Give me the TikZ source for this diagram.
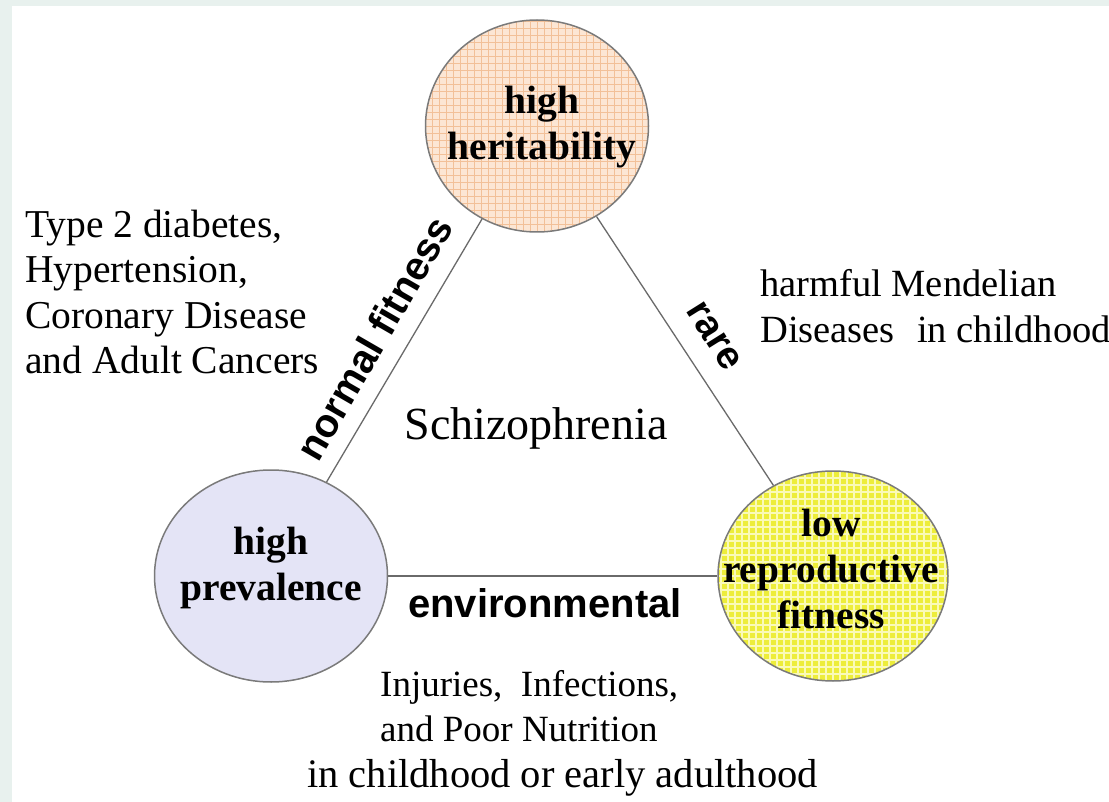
\documentclass[tikz,border=0pt]{standalone}
\usepackage{fontspec}
\setmainfont{Liberation Serif}
\setsansfont{Liberation Sans}
\usetikzlibrary{shapes.geometric}

\definecolor{framebg}{HTML}{E8F1EE}
\definecolor{rimgray}{HTML}{7A7A7A}
\definecolor{linkgray}{HTML}{6A6A6A}
\definecolor{peachbase}{HTML}{FCE6D4}
\definecolor{peachline}{HTML}{F2C098}
\definecolor{lavender}{HTML}{E4E4F6}
\definecolor{lemonbase}{HTML}{EDED3A}
\definecolor{lemonline}{HTML}{FAFAB8}

% square cell pattern clipped to the shape it decorates
\newcommand{\cellpattern}[2]{%
  \begin{scope}[shift={(path picture bounding box.center)}]
    \foreach \k in {-126,-119,...,126}{
      \draw[#1, line width=#2] (\k,-130) -- (\k,130);
      \draw[#1, line width=#2] (-130,\k) -- (130,\k);
    }
  \end{scope}}

\tikzset{
  hub/.style={ellipse, draw=rimgray, line width=1.5pt, inner sep=0pt},
  peachgrid/.style={fill=peachbase, path picture={\cellpattern{peachline}{0.9pt}}},
  lemongrid/.style={fill=lemonbase, path picture={\cellpattern{lemonline}{1.6pt}}},
  link/.style={draw=linkgray, line width=1.3pt},
  hubtext/.style={align=center, inner sep=0pt, font=\bfseries\fontsize{39.5}{46}\selectfont},
  note/.style={inner sep=0pt, font=\fontsize{39.5}{45.5}\selectfont},
  edgetag/.style={inner sep=0pt, font=\sffamily\bfseries\fontsize{40}{44}\selectfont}
}

\begin{document}
\begin{tikzpicture}[x=1pt,y=-1pt]
  \useasboundingbox (0,0) rectangle (1109,802);
  \fill[framebg] (0,0) rectangle (1109,802);
  \fill[white] (12,6) rectangle (1109,802);

  % the three properties
  \node[hub, peachgrid, minimum width=223pt, minimum height=212pt] (her) at (537,126) {};
  \node[hub, fill=lavender, minimum width=233pt, minimum height=212pt] (prev) at (271,576) {};
  \node[hub, lemongrid, minimum width=230pt, minimum height=210pt] (fit) at (833,576) {};

  % connectors
  \draw[link] (her) -- (prev);
  \draw[link] (her) -- (fit);
  \draw[link] (prev) -- (fit);

  % circle captions
  \node[hubtext] (herT) at (542,127) {high\\heritability};
  \node[hubtext] (prevT) at (271,568) {high\\prevalence};
  \node[hubtext] (fitT) at (831,569) {low\\reproductive\\fitness};

  % edge captions
  \node[edgetag, rotate=60] (nf) at (374,338) {normal fitness};
  \node[edgetag, rotate=-58, font=\sffamily\bfseries\fontsize{39}{44}\selectfont] (rare) at (714,336) {rare};
  \node[edgetag, anchor=base] (env) at (545,617) {environmental};

  % centre and examples
  \node[inner sep=0pt, font=\fontsize{46}{50}\selectfont] (sch) at (536,428) {Schizophrenia};
  \node[note, align=left, anchor=west] (common) at (25,292)
    {Type 2 diabetes,\\Hypertension,\\Coronary Disease\\and Adult Cancers};
  \node[note, align=left, anchor=west, font=\fontsize{38.5}{45.5}\selectfont] (mendel) at (760,306)
    {harmful Mendelian\\Diseases\hspace{0.33em} in childhood};
  \node[note, align=left, anchor=west, font=\fontsize{37}{45.5}\selectfont] (envex) at (307,733)
    {\hspace*{73pt}Injuries,\ \ Infections,\\\hspace*{73pt}and Poor Nutrition\\{\fontsize{40.5}{45.5}\selectfont in childhood or early adulthood}};
\end{tikzpicture}
\end{document}
